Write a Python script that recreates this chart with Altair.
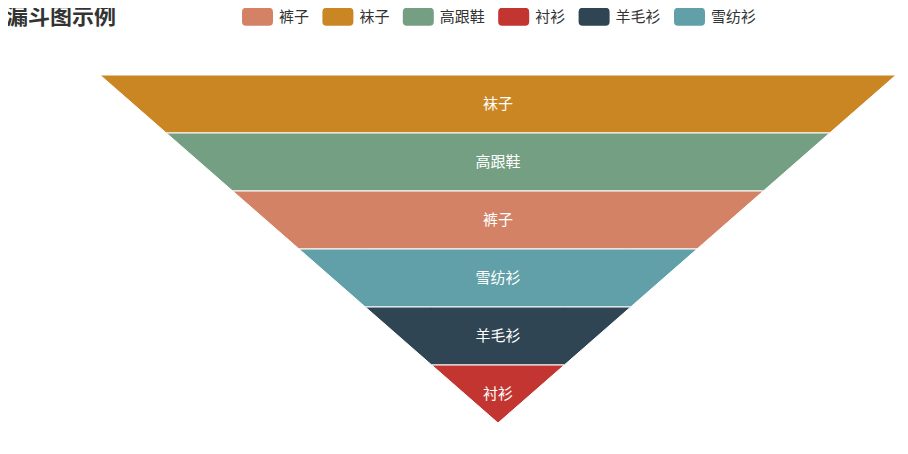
import altair as alt
import pandas as pd

# ---- data ----
title_text = "漏斗图示例"
names = ["衬衫", "羊毛衫", "雪纺衫", "裤子", "高跟鞋", "袜子"]
values = [20, 40, 60, 80, 100, 120]
legend_order = ["裤子", "袜子", "高跟鞋", "衬衫", "羊毛衫", "雪纺衫"]
legend_colors = ["#d48265", "#ca8622", "#749f83", "#c23531", "#2f4554", "#61a0a8"]

FONT = "Noto Sans CJK SC"

# funnel geometry: sorted descending, each trapezoid goes from its value to the next one
items = sorted(zip(names, values), key=lambda t: -t[1])
seg_rows, lab_rows = [], []
for i, (n, v) in enumerate(items):
    nxt = items[i + 1][1] if i + 1 < len(items) else 0
    a, b = v / 2, nxt / 2
    # vertical-orient area: key = horizontal position, band from top edge to slanted edge
    for xk, y2k in [(-a, i), (-b, i + 1), (b, i + 1), (a, i)]:
        seg_rows.append({"name": n, "xpos": xk, "top": i, "bot": y2k})
    lab_rows.append({"name": n, "pos": i + 0.5, "mid": 0})
seg = pd.DataFrame(seg_rows)
lab = pd.DataFrame(lab_rows)

vmax = max(values)
nseg = len(items)

xs = alt.Scale(domain=[-vmax / 2, vmax / 2], nice=False, zero=False)
ys = alt.Scale(domain=[0, nseg], reverse=True, nice=False, zero=False)

rr = ("M -0.74 -0.58 L 0.74 -0.58 Q 1 -0.58 1 -0.32 L 1 0.32 Q 1 0.58 0.74 0.58 "
      "L -0.74 0.58 Q -1 0.58 -1 0.32 L -1 -0.32 Q -1 -0.58 -0.74 -0.58 Z")

area = alt.Chart(seg).mark_area(stroke="white", strokeWidth=1).encode(
    x=alt.X("xpos:Q", scale=xs, axis=None),
    y=alt.Y("top:Q", scale=ys, axis=None),
    y2="bot:Q",
    color=alt.Color(
        "name:N",
        scale=alt.Scale(domain=legend_order, range=legend_colors),
        legend=alt.Legend(
            title=None, orient="none", legendX=142, legendY=-74,
            direction="horizontal", columns=6, symbolType=rr, symbolSize=961,
            symbolStrokeWidth=0, symbolOpacity=1, labelFont=FONT, labelFontSize=15,
            labelColor="#333", labelOffset=6, columnPadding=12.4, padding=0,
            labelBaseline="middle",
        ),
    ),
)

text = alt.Chart(lab).mark_text(
    color="white", fontSize=15, font=FONT, baseline="middle", align="center"
).encode(
    x=alt.X("mid:Q", scale=xs, axis=None),
    y=alt.Y("pos:Q", scale=ys, axis=None),
    text="name:N",
)

chart = alt.layer(area, text).properties(
    width=796, height=348,
    padding={"left": 92, "top": 67, "right": 4, "bottom": 23},
    autosize=alt.AutoSizeParams(type="none"),
    title=alt.TitleParams(
        text=title_text, orient="bottom", anchor="start", fontSize=22,
        fontWeight="bold", font=FONT, color="#333", dx=-92, offset=0,
        baseline="alphabetic", dy=-401,
    ),
).configure_view(stroke=None)

chart.save("out.html", embed_options={"renderer": "svg", "actions": False})
